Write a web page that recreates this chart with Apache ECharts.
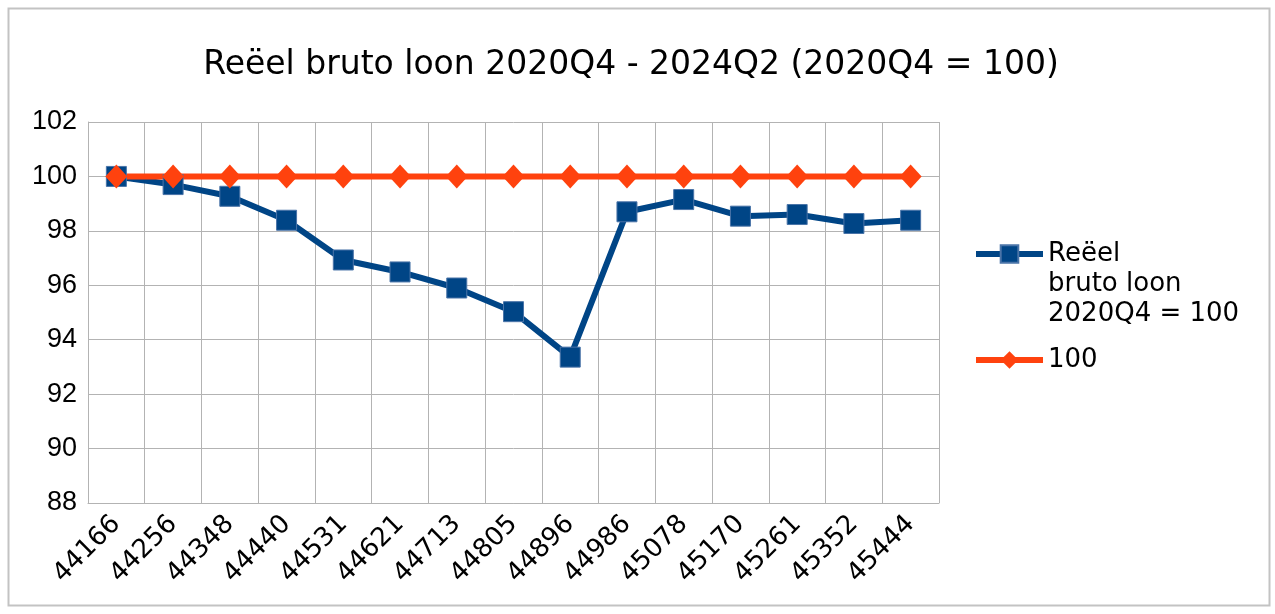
<!DOCTYPE html>
<html>
<head>
<meta charset="utf-8">
<script src="https://cdn.jsdelivr.net/npm/echarts@6/dist/echarts.min.js"></script>
<style>
html,body{margin:0;padding:0;background:#fff;}
#c{width:1275px;height:614px;}
</style>
</head>
<body>
<div id="c"></div>
<script>
const categories = ['44166','44256','44348','44440','44531','44621','44713','44805','44896','44986','45078','45170','45261','45352','45444'];
const realWage = [100, 99.7, 99.27, 98.39, 96.93, 96.49, 95.9, 95.03, 93.36, 98.7, 99.15, 98.54, 98.6, 98.27, 98.39];
const baseline = [100, 100, 100, 100, 100, 100, 100, 100, 100, 100, 100, 100, 100, 100, 100];
const seriesNames = ['Reëel bruto loon 2020Q4 = 100', '100'];
const legendLines = ['Reëel', 'bruto loon', '2020Q4 = 100'];
const titleText = 'Reëel bruto loon 2020Q4 - 2024Q2 (2020Q4 = 100)';

const chart = echarts.init(document.getElementById('c'), null, {renderer: 'canvas'});
const gridColor = '#b3b3b3';
const blue = '#004586', orange = '#ff420e';
chart.setOption({
  animation: false,
  backgroundColor: '#ffffff',
  title: {
    text: titleText,
    left: 631,
    textAlign: 'center',
    top: 49,
    padding: 0,
    textStyle: {fontFamily: 'DejaVu Sans', fontSize: 33, fontWeight: 'normal', color: '#000'}
  },
  graphic: [{
    type: 'rect', left: 6, top: 6, silent: true,
    shape: {width: 1261, height: 597},
    style: {fill: 'none', stroke: '#c3c3c3', lineWidth: 2}
  }],
  legend: [{
    data: [{name: seriesNames[0]}],
    orient: 'vertical',
    left: 973, top: 179, padding: 0,
    itemWidth: 67, itemHeight: 22, itemGap: 0,
    lineStyle: {width: 6, color: blue},
    formatter: function () { return '\n\n' + legendLines.join('\n'); },
    textStyle: {fontFamily: 'DejaVu Sans', fontSize: 26, color: '#000', lineHeight: 30}
  }, {
    data: [{name: seriesNames[1]}],
    orient: 'vertical',
    left: 973, top: 345, padding: 0,
    itemWidth: 67, itemHeight: 22, itemGap: 0,
    lineStyle: {width: 6, color: orange},
    textStyle: {fontFamily: 'DejaVu Sans', fontSize: 26, color: '#000', lineHeight: 30}
  }],
  grid: {left: 88, right: 336, top: 122, bottom: 111, containLabel: false},
  xAxis: {
    type: 'category',
    data: categories,
    boundaryGap: true,
    axisLine: {show: true, lineStyle: {color: gridColor, width: 1}},
    axisTick: {show: false},
    splitLine: {show: true, lineStyle: {color: gridColor, width: 1}},
    axisLabel: {rotate: 45, margin: 17, fontFamily: 'DejaVu Sans', fontSize: 26, color: '#000', interval: 0}
  },
  yAxis: {
    type: 'value', min: 88, max: 102, interval: 2,
    axisLine: {show: true, lineStyle: {color: gridColor, width: 1}},
    axisTick: {show: false},
    splitLine: {show: true, lineStyle: {color: gridColor, width: 1}},
    axisLabel: {margin: 11, fontFamily: 'Liberation Sans', fontSize: 27, color: '#000'}
  },
  series: [{
    name: seriesNames[0],
    type: 'line',
    data: realWage,
    symbol: 'rect',
    symbolSize: 20,
    lineStyle: {color: blue, width: 6},
    itemStyle: {color: blue, borderColor: '#4a74a8', borderWidth: 1}
  }, {
    name: seriesNames[1],
    type: 'line',
    data: baseline,
    symbol: 'diamond',
    symbolSize: [22, 24],
    lineStyle: {color: orange, width: 6},
    itemStyle: {color: orange, borderWidth: 0}
  }]
});
</script>
</body>
</html>
